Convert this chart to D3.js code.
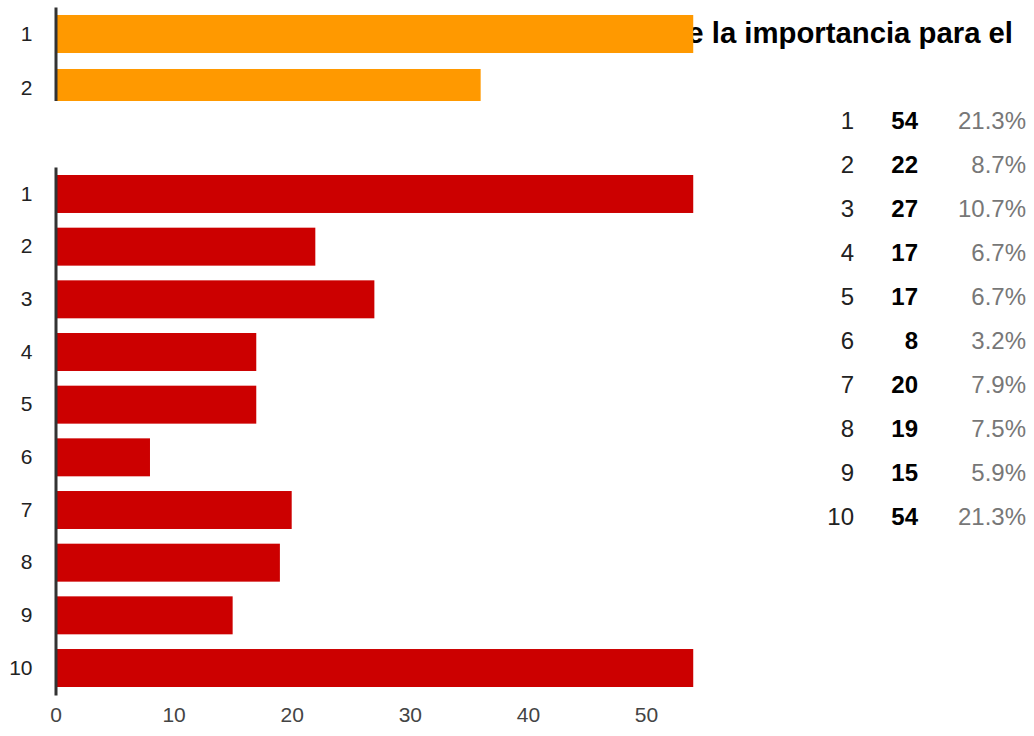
<!DOCTYPE html>
<html>
<head>
<meta charset="utf-8">
<script src="https://cdn.jsdelivr.net/npm/d3@7"></script>
<style>
html,body{margin:0;padding:0;background:#fff;}
svg{display:block;font-family:Arial,"Liberation Sans",sans-serif;}
</style>
</head>
<body>
<svg id="chart" width="1034" height="736"></svg>
<script>
const titleText = "Grado de la importancia para el";
const topCategories = ["1", "2"];
const topValues = [54, 36];
const categories = ["1","2","3","4","5","6","7","8","9","10"];
const values = [54, 22, 27, 17, 17, 8, 20, 19, 15, 54];
const percents = ["21.3%","8.7%","10.7%","6.7%","6.7%","3.2%","7.9%","7.5%","5.9%","21.3%"];
const xTicks = [0, 10, 20, 30, 40, 50];

const svg = d3.select("#chart");
const x = d3.scaleLinear().domain([0, 50]).range([55.5, 646]);

// Title (partly hidden behind the top chart)
svg.append("text")
  .attr("x", 1013).attr("y", 43)
  .attr("text-anchor", "end")
  .attr("font-size", 29.3).attr("font-weight", "bold")
  .attr("fill", "#000")
  .text(titleText);

// Top chart (clipped)
svg.append("clipPath").attr("id", "topclip")
  .append("rect").attr("x", 0).attr("y", 0).attr("width", 1034).attr("height", 101);

const yTop = d3.scaleBand().domain(topCategories).range([7, 115])
  .paddingInner(0.296).paddingOuter(0.148);
const gTop = svg.append("g").attr("clip-path", "url(#topclip)");
gTop.selectAll("rect.bar").data(topValues).join("rect")
  .attr("class", "bar")
  .attr("x", x(0))
  .attr("y", (d, i) => yTop(topCategories[i]))
  .attr("width", d => x(d) - x(0))
  .attr("height", yTop.bandwidth())
  .attr("fill", "#ff9900");
const axTop = gTop.append("g").attr("transform", `translate(${x(0)},0)`)
  .call(d3.axisLeft(yTop).tickSize(0).tickPadding(23));
axTop.select(".domain").attr("stroke", "#333").attr("stroke-width", 3);
axTop.selectAll("text").attr("font-size", 21).attr("fill", "#222")
  .attr("font-family", "Arial, 'Liberation Sans', sans-serif");

// Main chart
const y = d3.scaleBand().domain(categories).range([167, 695])
  .paddingInner(0.279).paddingOuter(0.152);
svg.append("g").selectAll("rect").data(values).join("rect")
  .attr("x", x(0))
  .attr("y", (d, i) => y(categories[i]))
  .attr("width", d => x(d) - x(0))
  .attr("height", y.bandwidth())
  .attr("fill", "#cc0000");
const ay = svg.append("g").attr("transform", `translate(${x(0)},0)`)
  .call(d3.axisLeft(y).tickSize(0).tickPadding(23));
ay.select(".domain").attr("stroke", "#333").attr("stroke-width", 3);
ay.selectAll("text").attr("font-size", 21).attr("fill", "#222")
  .attr("font-family", "Arial, 'Liberation Sans', sans-serif");

const ax = svg.append("g").attr("transform", "translate(0,700)")
  .call(d3.axisBottom(x).tickValues(xTicks).tickSize(0).tickPadding(7));
ax.select(".domain").remove();
ax.selectAll("text").attr("font-size", 21).attr("fill", "#444")
  .attr("font-family", "Arial, 'Liberation Sans', sans-serif");

// Table
const rowY = d3.scalePoint().domain(categories).range([120, 516]);
const tbl = svg.append("g").attr("font-size", 24);
tbl.selectAll("text.lab").data(categories).join("text")
  .attr("class", "lab")
  .attr("x", 854).attr("y", d => rowY(d)).attr("dy", "0.36em")
  .attr("text-anchor", "end").attr("fill", "#222").text(d => d);
tbl.selectAll("text.val").data(values).join("text")
  .attr("class", "val")
  .attr("x", 918).attr("y", (d, i) => rowY(categories[i])).attr("dy", "0.36em")
  .attr("text-anchor", "end").attr("font-weight", "bold").attr("fill", "#000").text(d => d);
tbl.selectAll("text.pct").data(percents).join("text")
  .attr("class", "pct")
  .attr("x", 1026).attr("y", (d, i) => rowY(categories[i])).attr("dy", "0.36em")
  .attr("text-anchor", "end").attr("fill", "#777").text(d => d);
</script>
</body>
</html>
